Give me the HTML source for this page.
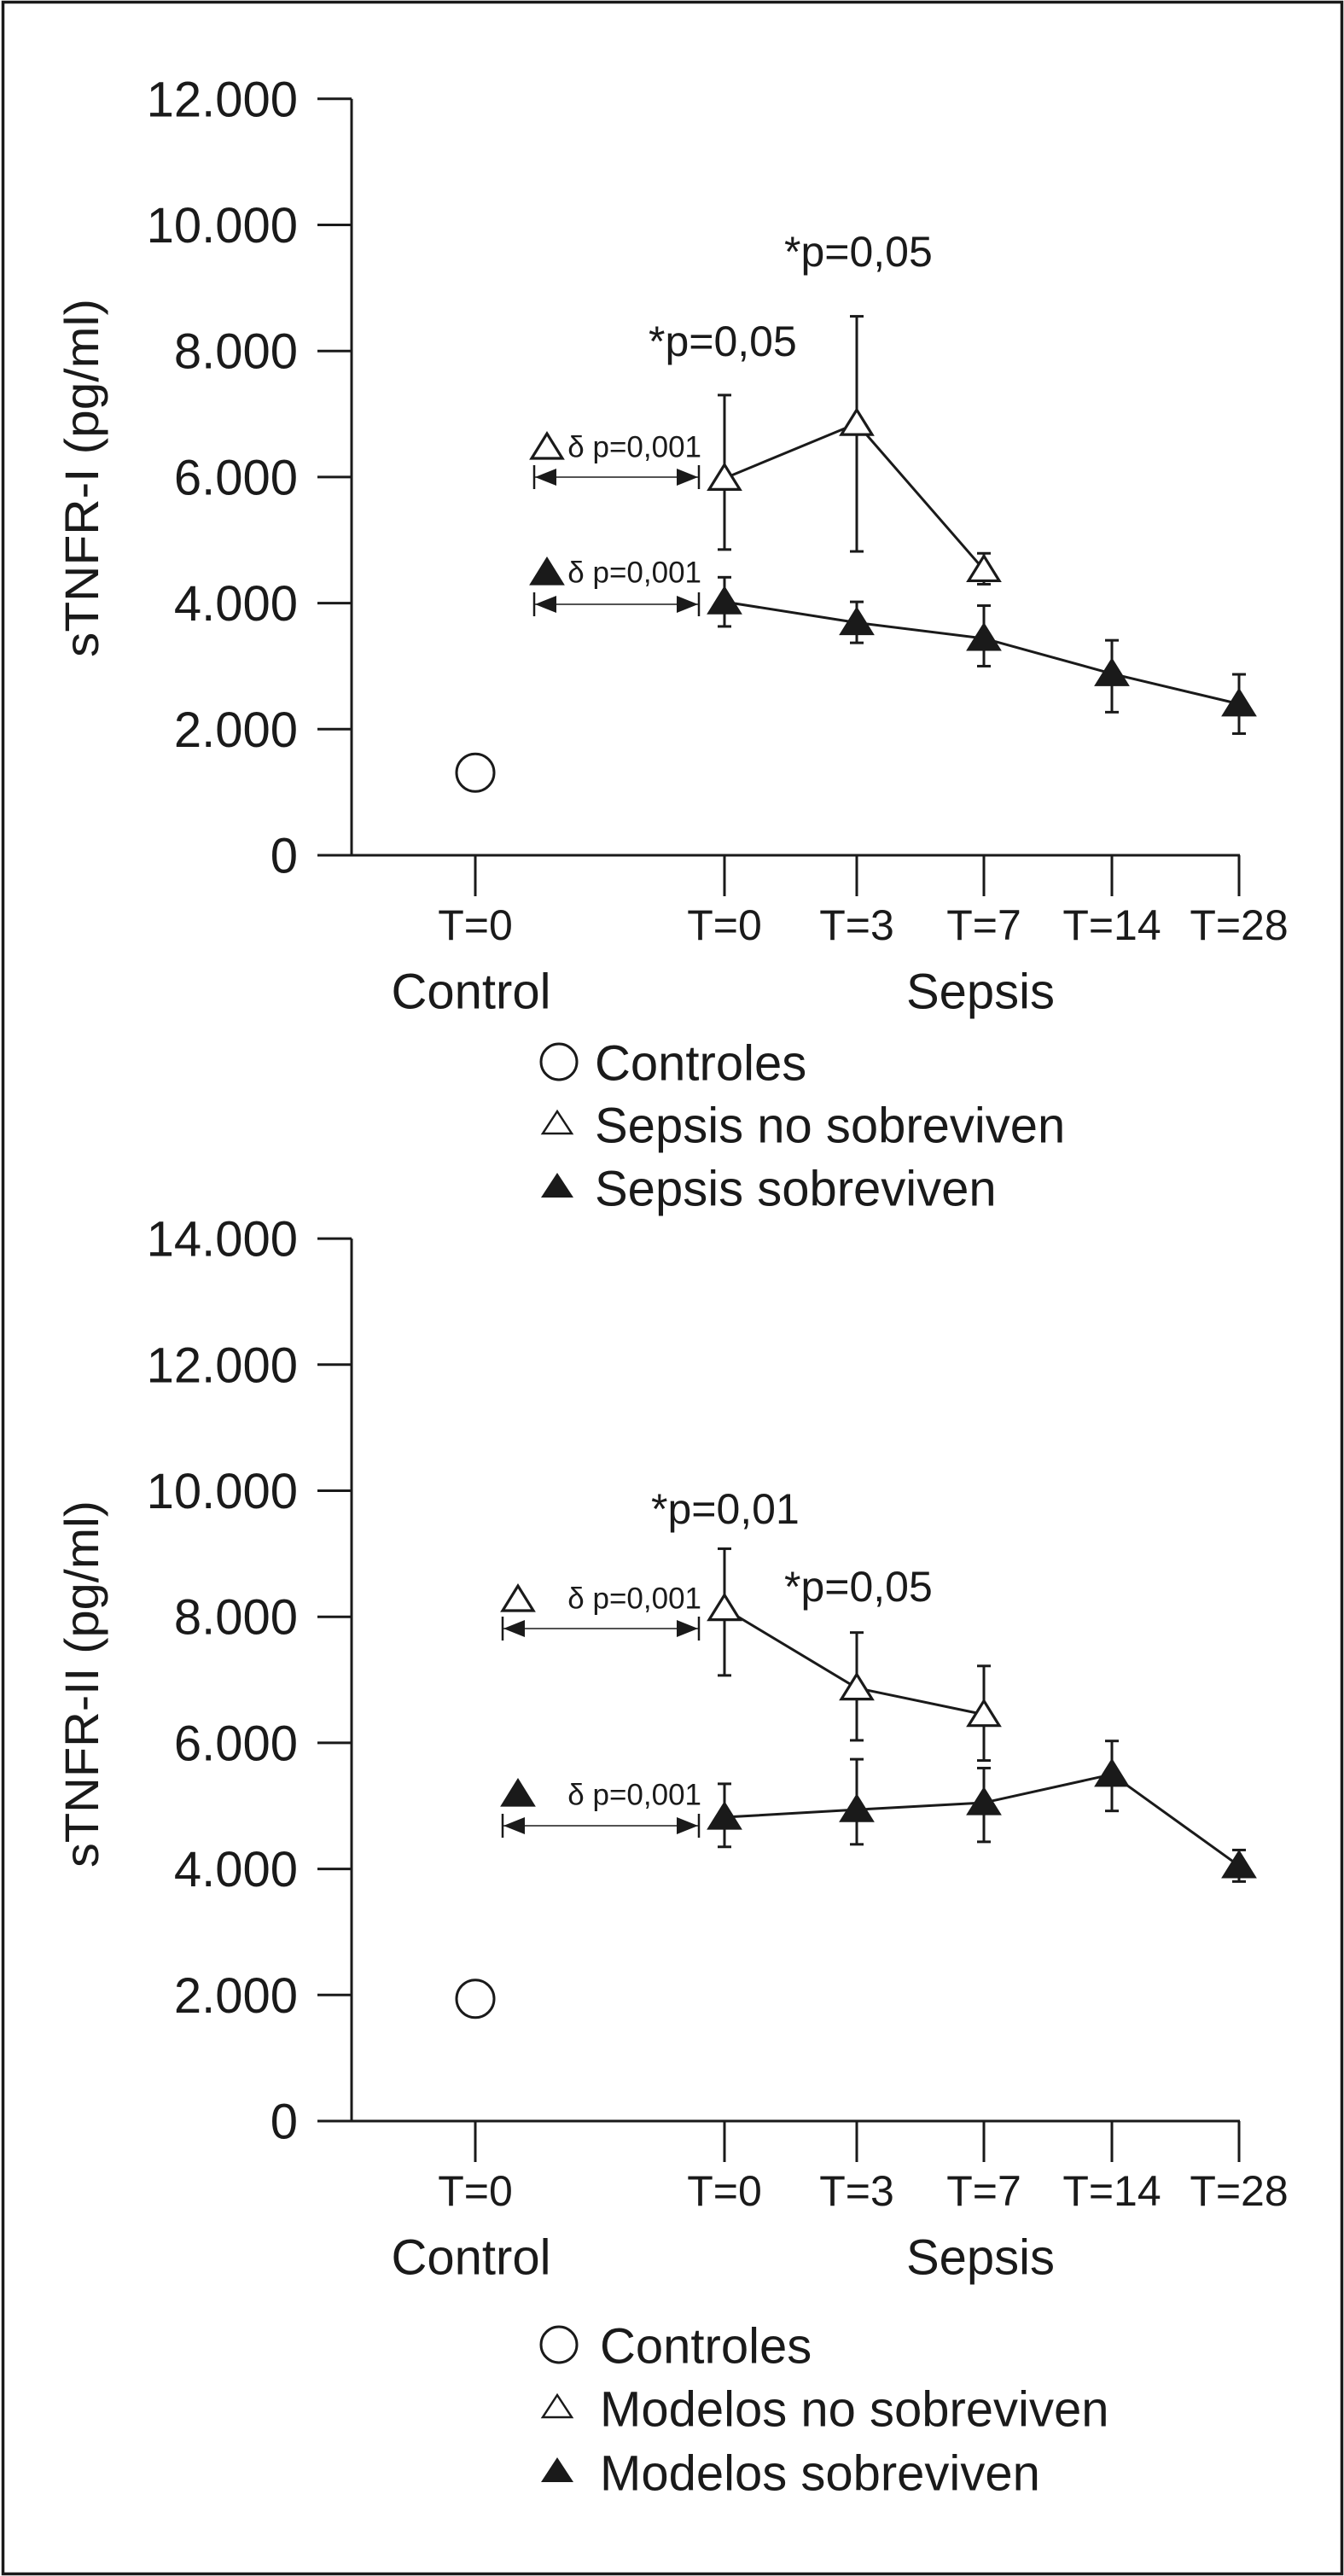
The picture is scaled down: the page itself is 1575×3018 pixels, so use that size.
<!DOCTYPE html>
<html><head><meta charset="utf-8"><style>
html,body{margin:0;padding:0;background:#fff;}
svg{display:block;}
text{font-family:"Liberation Sans",Arial,sans-serif;fill:#1a1a1a;}
</style></head><body>
<svg id="fig" width="1575" height="3018" viewBox="0 0 1575 3018" xmlns="http://www.w3.org/2000/svg">
<rect x="3.5" y="2.5" width="1569" height="3013" fill="#fff" stroke="#1a1a1a" stroke-width="3.5"/>
</svg>
<script>
// ---------- data ----------
const xCats = ["T=0","T=0","T=3","T=7","T=14","T=28"];
const yTicks1 = [0,2000,4000,6000,8000,10000,12000];
const yTickLabels1 = ["0","2.000","4.000","6.000","8.000","10.000","12.000"];
const yTicks2 = [0,2000,4000,6000,8000,10000,12000,14000];
const yTickLabels2 = ["0","2.000","4.000","6.000","8.000","10.000","12.000","14.000"];
// chart 1 (sTNFR-I)
const c1Control = 1310;
const c1OpenVals = [5980,6850,4530];
const c1OpenHi = [7300,8550,4790];
const c1OpenLo = [4850,4820,4300];
const c1FillVals = [4020,3690,3440,2880,2400];
const c1FillHi = [4410,4020,3960,3410,2870];
const c1FillLo = [3630,3370,3000,2270,1930];
// chart 2 (sTNFR-II)
const c2Control = 1940;
const c2OpenVals = [8130,6870,6450];
const c2OpenHi = [9080,7750,7220];
const c2OpenLo = [7070,6040,5720];
const c2FillVals = [4820,4940,5050,5500,4050];
const c2FillHi = [5350,5740,5600,6030,4300];
const c2FillLo = [4350,4390,4430,4920,3800];

const NS="http://www.w3.org/2000/svg";
const svg=document.getElementById('fig');
function mk(tag,attrs,parent){const e=document.createElementNS(NS,tag);for(const k in attrs)e.setAttribute(k,attrs[k]);(parent||svg).appendChild(e);return e;}
function txt(x,y,s,size,anchor,parent){const t=mk('text',{x:x,y:y,'font-size':size,'text-anchor':anchor||'start','dominant-baseline':'central'},parent);t.textContent=s;return t;}

const xPos=[557,849,1004,1153,1303,1452];
function xs(i){return xPos[i];}

function tri(g,cx,cy,filled){
  const p=mk('polygon',{points:`${cx},${cy-16} ${cx-18},${cy+13} ${cx+18},${cy+13}`,fill:filled?'#1a1a1a':'#fff',stroke:'#1a1a1a','stroke-width':3.2,'stroke-linejoin':'miter'},g);
  return p;
}

function chart(o){
  const g=mk('g',{});
  
  
  const y0=o.y0, per=147.7/2000;
  const ys=v=>y0-v*per;
  const ymax=o.ticks[o.ticks.length-1];
  // axes
  const ya=mk('line',{x1:412,y1:ys(ymax),x2:412,y2:y0,stroke:'#1a1a1a','stroke-width':3},g);
  
  
  const xa=mk('line',{x1:372,y1:y0,x2:1453,y2:y0,stroke:'#1a1a1a','stroke-width':3},g);
  
  
  o.ticks.forEach((v,i)=>{
    mk('line',{x1:372,y1:ys(v),x2:412,y2:ys(v),stroke:'#1a1a1a','stroke-width':3},g);
    const t=txt(349,ys(v)+1,o.tickLabels[i],58,'end',g);
    
    
  });
  xCats.forEach((c,i)=>{
    mk('line',{x1:xs(i),y1:y0,x2:xs(i),y2:y0+48,stroke:'#1a1a1a','stroke-width':3},g);
    const t=txt(xs(i),y0+82,c,50,'middle',g);
    
    
  });
  const gc=txt(552,y0+160,'Control',58,'middle',g);
  
  
  const gs=txt(1149,y0+160,'Sepsis',58,'middle',g);
  
  
  // y title
  const yt=mk('text',{x:0,y:0,'font-size':56,'text-anchor':'middle',transform:`translate(115,${o.titleY}) rotate(-90)`,textLength:o.titleLen,lengthAdjust:'spacingAndGlyphs'},g);
  yt.textContent=o.title;
  
  
  // series
  function series(vals,hi,lo,startIdx,filled,name){
    const sg=mk('g',{},g);
    
    
    vals.forEach((v,i)=>{
      const x=xs(i+startIdx);
      mk('line',{x1:x,y1:ys(hi[i]),x2:x,y2:ys(lo[i]),stroke:'#1a1a1a','stroke-width':3},sg);
      mk('line',{x1:x-8,y1:ys(hi[i]),x2:x+8,y2:ys(hi[i]),stroke:'#1a1a1a','stroke-width':3},sg);
      mk('line',{x1:x-8,y1:ys(lo[i]),x2:x+8,y2:ys(lo[i]),stroke:'#1a1a1a','stroke-width':3},sg);
    });
    const pts=vals.map((v,i)=>xs(i+startIdx)+','+ys(v)).join(' ');
    mk('polyline',{points:pts,fill:'none',stroke:'#1a1a1a','stroke-width':3},sg);
    vals.forEach((v,i)=>{
      const p=tri(sg,xs(i+startIdx),ys(v),filled);
      
      
    });
  }
  series(o.openVals,o.openHi,o.openLo,1,false,'series-no-sobreviven');
  series(o.fillVals,o.fillHi,o.fillLo,1,true,'series-sobreviven');
  const c=mk('circle',{cx:xs(0),cy:ys(o.control),r:22,fill:'#fff',stroke:'#1a1a1a','stroke-width':3},g);
  
  
  // delta annotations
  o.deltas.forEach((d,k)=>{
    const dg=mk('g',{},g);
    
    
    tri(dg,d.ix,d.iy,k===1);
    txt(822,d.ty,'δ p=0,001',35,'end',dg);
    const ay=d.ay;
    mk('line',{x1:d.ax1,y1:ay-14,x2:d.ax1,y2:ay+14,stroke:'#1a1a1a','stroke-width':2.5},dg);
    mk('line',{x1:819,y1:ay-14,x2:819,y2:ay+14,stroke:'#1a1a1a','stroke-width':2.5},dg);
    mk('line',{x1:d.ax1,y1:ay,x2:819,y2:ay,stroke:'#1a1a1a','stroke-width':1.6},dg);
    mk('polygon',{points:`${d.ax1+1},${ay} ${d.ax1+26},${ay-10} ${d.ax1+26},${ay+10}`,fill:'#1a1a1a'},dg);
    mk('polygon',{points:`818,${ay} 793,${ay-10} 793,${ay+10}`,fill:'#1a1a1a'},dg);
  });
  o.stars.forEach(s=>{
    const t=txt(s.x,s.y,s.t,50,'start',g);
    
    
  });
  // legend
  const lg=mk('g',{},g);
  
  
  const L=o.legend;
  mk('circle',{cx:655,cy:L.y[0],r:21,fill:'#fff',stroke:'#1a1a1a','stroke-width':3},lg);
  txt(L.tx,L.y[0]+2,L.labels[0],58,'start',lg);
  const t1=mk('polygon',{points:`653,${L.y[1]-14} 636,${L.y[1]+12} 670,${L.y[1]+12}`,fill:'#fff',stroke:'#1a1a1a','stroke-width':2.5},lg);
  txt(L.tx,L.y[1]+3,L.labels[1],58,'start',lg);
  mk('polygon',{points:`653,${L.y[2]-16} 634,${L.y[2]+13} 672,${L.y[2]+13}`,fill:'#1a1a1a'},lg);
  txt(L.tx,L.y[2]+3,L.labels[2],58,'start',lg);
}

chart({name:'chart-stnfr-i',y0:1002,ticks:yTicks1,tickLabels:yTickLabels1,title:'sTNFR-I (pg/ml)',titleY:560,titleLen:420,
  control:c1Control,openVals:c1OpenVals,openHi:c1OpenHi,openLo:c1OpenLo,fillVals:c1FillVals,fillHi:c1FillHi,fillLo:c1FillLo,
  deltas:[{ix:641,iy:524,ty:524,ay:559,ax1:626},{ix:641,iy:671,ty:671,ay:708,ax1:626}],
  stars:[{x:919,y:295,t:'*p=0,05'},{x:760,y:400,t:'*p=0,05'}],
  legend:{tx:697,y:[1244,1316,1390],labels:['Controles','Sepsis no sobreviven','Sepsis sobreviven']}});
chart({name:'chart-stnfr-ii',y0:2485,ticks:yTicks2,tickLabels:yTickLabels2,title:'sTNFR-II (pg/ml)',titleY:1973,titleLen:430,
  control:c2Control,openVals:c2OpenVals,openHi:c2OpenHi,openLo:c2OpenLo,fillVals:c2FillVals,fillHi:c2FillHi,fillLo:c2FillLo,
  deltas:[{ix:607,iy:1874,ty:1873,ay:1908,ax1:589},{ix:607,iy:2102,ty:2103,ay:2139,ax1:589}],
  stars:[{x:763,y:1768,t:'*p=0,01'},{x:919,y:1859,t:'*p=0,05'}],
  legend:{tx:703,y:[2747,2820,2895],labels:['Controles','Modelos no sobreviven','Modelos sobreviven']}});
</script>
</body></html>
